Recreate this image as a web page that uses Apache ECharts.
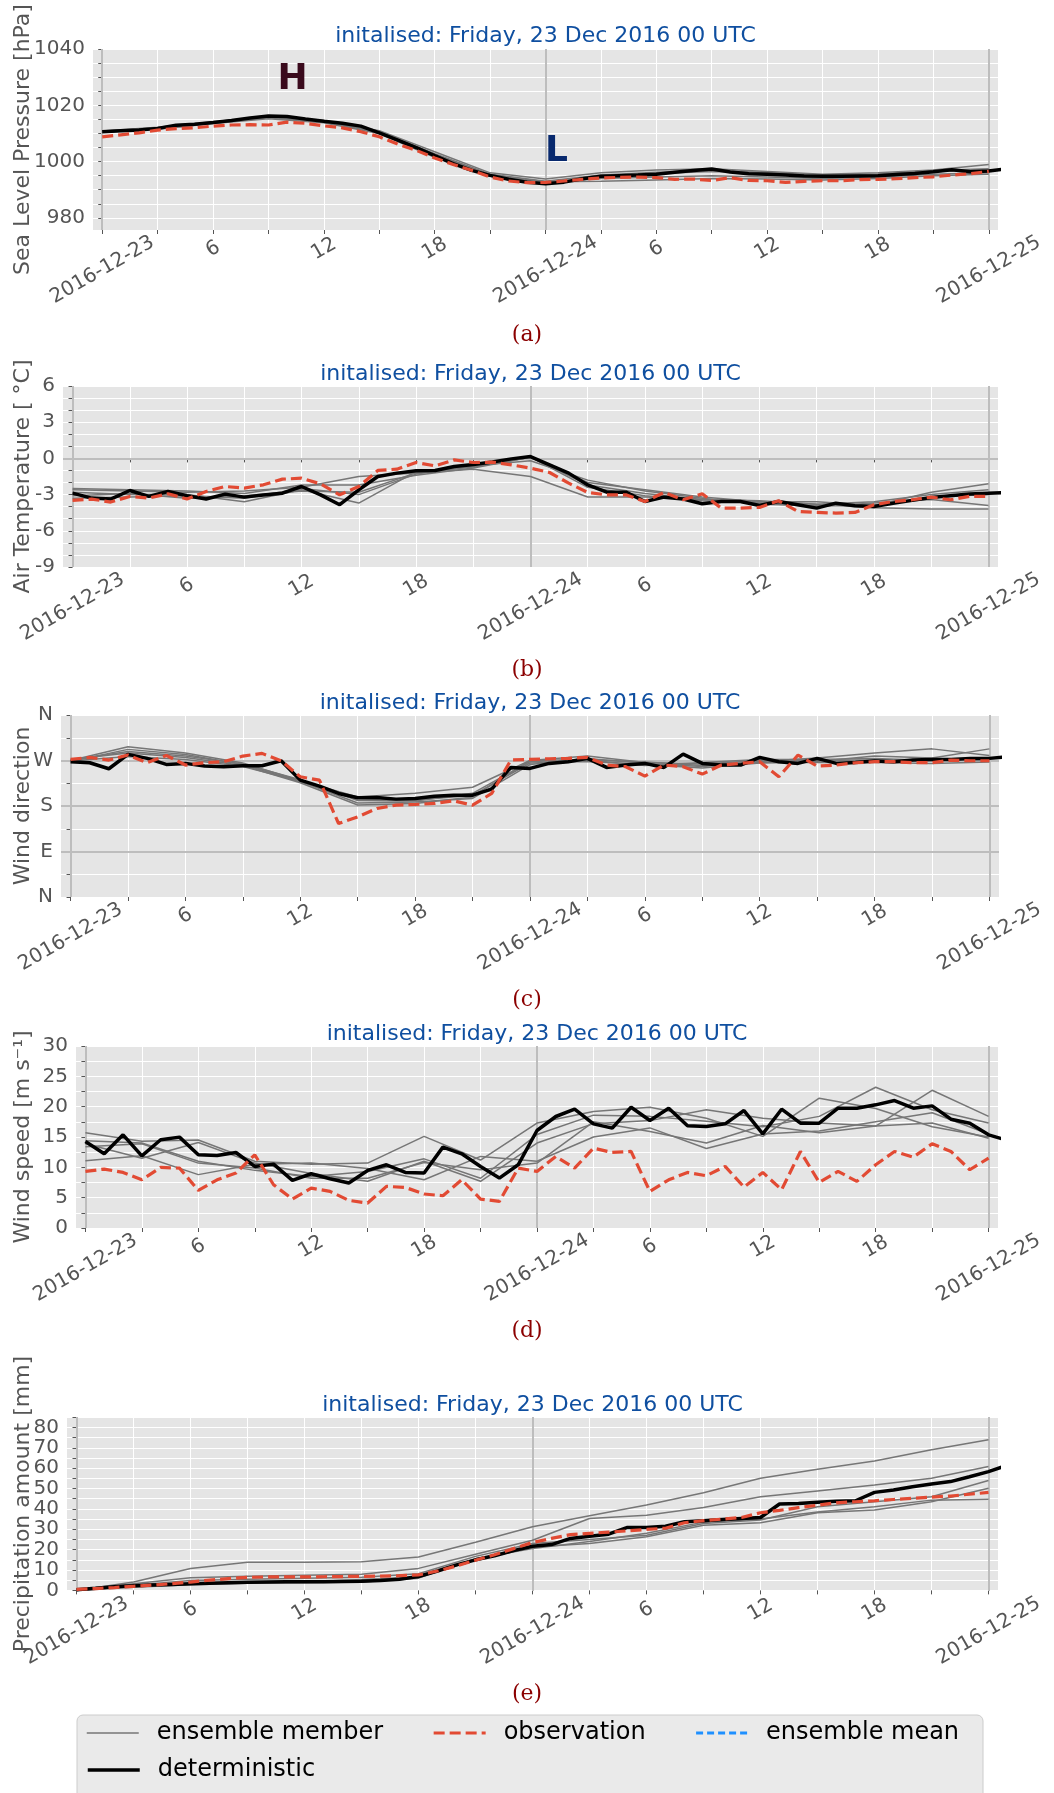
<!DOCTYPE html>
<html>
<head>
<meta charset="utf-8">
<title>Meteogram 23 Dec 2016</title>
<script src="https://cdn.jsdelivr.net/npm/echarts@6/dist/echarts.min.js"></script>
<style>
html, body { margin: 0; padding: 0; background: #fff; }
#chart { width: 1054px; height: 1793px; }
</style>
</head>
<body>
<div id="chart"></div>
<script>
// hours since 2016-12-23 00 UTC
const dayHours = [0, 24, 48];
const dayLabels = ['2016-12-23', '2016-12-24', '2016-12-25'];
const hourLabelValues = [6, 12, 18, 30, 36, 42];
const xTickHours = [0, 3, 6, 9, 12, 15, 18, 21, 24, 27, 30, 33, 36, 39, 42, 45, 48];

// y ticks / labels
const pressureTicks = [980, 985, 990, 995, 1000, 1005, 1010, 1015, 1020, 1025, 1030, 1035, 1040];
const pressureLabels = [980, 1000, 1020, 1040];
const temperatureTicks = [-9, -8, -7, -6, -5, -4, -3, -2, -1, 0, 1, 2, 3, 4, 5, 6];
const temperatureLabels = [-9, -6, -3, 0, 3, 6];
const directionTicks = [0, 45, 90, 135, 180, 225, 270, 315, 360];
const directionLabelValues = [0, 90, 180, 270, 360];
const directionLabelText = ['N', 'E', 'S', 'W', 'N'];
const speedTicks = [0, 2.5, 5, 7.5, 10, 12.5, 15, 17.5, 20, 22.5, 25, 27.5, 30];
const speedLabels = [0, 5, 10, 15, 20, 25, 30];
const precipTicks = [0, 5, 10, 15, 20, 25, 30, 35, 40, 45, 50, 55, 60, 65, 70, 75, 80, 85];
const precipLabels = [0, 10, 20, 30, 40, 50, 60, 70, 80];

// (a) sea level pressure, hourly deterministic / observation, 3-hourly members
const pressureDet = [1010.6, 1011.0, 1011.2, 1011.8, 1012.9, 1013.3, 1013.9, 1014.6, 1015.5, 1016.2, 1016.0, 1015.1, 1014.3, 1013.6, 1012.6, 1010.2, 1007.6, 1005.0, 1002.1, 999.3, 996.9, 995.1, 993.7, 992.7, 992.1, 992.7, 993.9, 994.8, 995.0, 995.2, 995.5, 996.2, 996.8, 997.4, 996.3, 995.7, 995.5, 995.2, 994.9, 994.8, 994.8, 994.9, 995.0, 995.4, 995.8, 996.4, 997.1, 996.4, 996.7, 997.4];
const pressureObs = [1008.8, 1009.5, 1010.2, 1011.2, 1011.7, 1012.0, 1012.6, 1013.0, 1013.1, 1013.0, 1014.0, 1013.6, 1012.7, 1012.0, 1010.6, 1008.8, 1006.2, 1004.0, 1001.3, 999.0, 996.9, 994.5, 993.1, 992.5, 992.6, 993.1, 993.7, 994.2, 994.4, 994.5, 994.3, 993.7, 993.8, 993.3, 994.3, 993.3, 993.2, 992.6, 993.0, 993.2, 993.2, 993.6, 993.7, 993.9, 994.3, 994.6, 995.2, 995.7, 996.5];
const pressureM1 = [1010.8, 1012.0, 1013.8, 1015.8, 1014.6, 1011.0, 1003.5, 996.0, 993.8, 996.0, 997.0, 997.5, 996.5, 995.5, 996.0, 997.0, 999.0];
const pressureM2 = [1010.4, 1011.6, 1013.6, 1015.6, 1014.0, 1010.5, 1002.8, 995.5, 993.0, 995.2, 996.2, 996.8, 996.0, 995.0, 995.5, 996.8, 997.5];
const pressureM3 = [1010.5, 1011.5, 1013.5, 1015.2, 1013.8, 1010.0, 1001.5, 994.8, 992.5, 994.0, 994.5, 995.0, 994.5, 994.0, 994.5, 995.5, 996.0];
const pressureM4 = [1010.9, 1012.2, 1014.2, 1016.0, 1014.5, 1010.8, 1002.5, 995.3, 992.8, 993.0, 993.5, 994.0, 993.8, 993.5, 994.0, 995.0, 995.5];
const pressureM5 = [1010.6, 1011.9, 1013.8, 1015.9, 1014.2, 1010.4, 1002.0, 995.0, 992.2, 994.5, 995.8, 996.5, 996.0, 995.2, 995.5, 996.5, 997.0];
// H / L annotations
const centreText = ['H', 'L'];
const centreHour = [10.3, 24.6];
const centreHpa = [1029.1, 1003.6];

// (b) air temperature
const temperatureDet = [-2.88, -3.29, -3.37, -2.66, -3.15, -2.74, -3.10, -3.37, -2.96, -3.21, -3.04, -2.88, -2.33, -3.02, -3.84, -2.60, -1.50, -1.22, -1.03, -1.00, -0.67, -0.51, -0.29, -0.04, 0.15, -0.53, -1.22, -2.2, -2.8, -2.8, -3.57, -3.21, -3.37, -3.76, -3.57, -3.57, -3.90, -3.57, -3.84, -4.12, -3.71, -3.93, -3.98, -3.71, -3.48, -3.24, -3.10, -2.96, -2.88, -2.82];
const temperatureObs = [-3.48, -3.37, -3.62, -3.15, -3.29, -2.93, -3.37, -2.74, -2.33, -2.46, -2.19, -1.72, -1.64, -2.11, -3.02, -2.33, -1.00, -0.89, -0.34, -0.62, -0.12, -0.34, -0.31, -0.53, -0.81, -1.17, -2.05, -2.82, -3.02, -3.02, -3.57, -2.82, -3.43, -2.93, -4.12, -4.12, -4.06, -3.51, -4.39, -4.48, -4.53, -4.48, -3.84, -3.57, -3.43, -3.21, -3.43, -3.15, -3.15];
const temperatureM1 = [-2.6, -2.7, -2.8, -2.7, -2.4, -1.5, -1.2, -0.9, -1.5, -3.2, -3.2, -3.4, -3.5, -3.8, -4.1, -4.2, -4.2];
const temperatureM2 = [-2.8, -3.0, -3.0, -3.6, -2.6, -3.7, -1.1, -0.7, 0.1, -2.0, -2.6, -3.2, -3.6, -3.6, -3.9, -2.8, -2.1];
const temperatureM3 = [-3.1, -2.9, -3.3, -3.1, -2.7, -2.8, -1.2, -0.7, 0.1, -2.2, -2.9, -3.4, -3.6, -3.8, -3.6, -3.0, -2.6];
const temperatureM4 = [-2.5, -2.6, -2.7, -2.9, -2.2, -2.2, -1.4, -0.8, 0.1, -2.4, -3.1, -3.5, -3.7, -4.0, -3.7, -3.4, -3.9];
const temperatureM5 = [-3.3, -3.2, -3.1, -3.3, -2.5, -3.0, -1.3, -0.6, -0.2, -1.8, -2.7, -3.3, -3.8, -3.9, -3.9, -3.2, -3.0];

// (c) wind direction, degrees
const directionDet = [267.6, 265.6, 253.7, 282.1, 274.2, 262.3, 264.3, 259.0, 257.7, 259.6, 259.6, 269.5, 231.2, 219.4, 204.8, 196.2, 196.9, 193.6, 194.9, 199.5, 201.5, 201.5, 213.4, 256.3, 254.4, 264.3, 267.6, 274.2, 256.3, 261.0, 264.3, 256.3, 282.7, 264.3, 261.0, 261.0, 276.1, 267.6, 264.3, 274.2, 264.3, 266.2, 268.9, 267.6, 270.9, 272.2, 272.2, 274.2, 274.2, 277.5];
const directionObs = [272.2, 276.1, 270.9, 280.8, 265.6, 280.1, 261.0, 265.6, 267.6, 278.8, 284.1, 269.5, 237.8, 231.2, 145.4, 158.6, 175.1, 181.7, 183.0, 185.0, 190.3, 181.7, 204.8, 270.9, 272.2, 273.5, 274.2, 276.1, 261.0, 257.7, 239.2, 261.0, 257.7, 243.1, 261.0, 264.3, 267.6, 237.8, 280.8, 259.0, 261.0, 265.6, 267.6, 267.6, 265.6, 265.6, 270.9, 269.5, 269.5];
const directionM1 = [270, 297, 285, 265, 230, 198, 205, 217, 270, 272, 267, 260, 268, 275, 285, 293, 280];
const directionM2 = [268, 292, 282, 262, 228, 195, 192, 201, 265, 268, 262, 255, 265, 268, 279, 275, 293];
const directionM3 = [272, 285, 276, 260, 226, 182, 185, 198, 270, 279, 266, 263, 270, 270, 271, 271, 275];
const directionM4 = [269, 278, 272, 258, 229, 186, 188, 195, 262, 274, 264, 258, 266, 266, 266, 264, 267];
const directionM5 = [271, 288, 279, 263, 232, 191, 190, 205, 268, 271, 260, 266, 272, 272, 274, 270, 272];

// (d) wind speed, m/s
const speedDet = [14.26, 12.23, 15.36, 11.90, 14.54, 14.98, 12.07, 11.96, 12.45, 10.15, 10.53, 7.84, 8.94, 8.12, 7.41, 9.49, 10.42, 9.16, 9.05, 13.33, 12.23, 10.15, 8.23, 10.42, 16.07, 18.38, 19.58, 17.17, 16.46, 19.91, 17.72, 19.75, 16.84, 16.73, 17.17, 19.36, 15.52, 19.58, 17.28, 17.28, 19.75, 19.75, 20.30, 21.01, 19.75, 20.13, 17.94, 17.28, 15.36, 14.43];
const speedObs = [9.33, 9.71, 9.16, 7.95, 9.98, 9.87, 6.20, 7.95, 9.05, 12.07, 7.13, 4.77, 6.58, 6.03, 4.55, 4.11, 6.86, 6.69, 5.60, 5.32, 7.95, 4.77, 4.39, 9.87, 9.33, 11.79, 9.87, 13.17, 12.45, 12.62, 6.03, 7.95, 9.16, 8.61, 10.15, 6.75, 9.16, 6.31, 12.62, 7.52, 9.33, 7.68, 10.42, 12.62, 11.68, 13.88, 12.62, 9.60, 11.52];
const speedM1 = [15.7, 14.3, 14.5, 11.0, 10.5, 10.7, 15.1, 11.2, 17.3, 19.2, 19.9, 18.1, 15.1, 21.4, 19.7, 16.7, 15.0];
const speedM2 = [14.4, 14.0, 11.0, 9.5, 8.5, 9.3, 11.4, 8.2, 15.4, 18.6, 18.4, 17.6, 16.7, 18.4, 23.2, 19.5, 17.3];
const speedM3 = [13.9, 11.5, 14.1, 10.7, 9.0, 7.7, 11.0, 7.7, 14.0, 17.2, 17.7, 19.5, 18.1, 17.3, 16.8, 22.7, 18.4];
const speedM4 = [13.4, 13.9, 10.7, 9.9, 8.2, 8.2, 10.8, 9.6, 10.7, 17.5, 15.9, 14.0, 16.9, 15.7, 16.8, 17.3, 14.8];
const speedM5 = [11.1, 11.9, 8.8, 10.5, 10.7, 9.8, 7.95, 11.8, 11.0, 15.0, 16.5, 13.1, 15.5, 16.0, 17.5, 19.0, 15.5];

// (e) accumulated precipitation, mm
const precipDet = [0.3, 1.0, 1.8, 2.3, 2.6, 2.9, 3.2, 3.5, 3.8, 4.0, 4.1, 4.2, 4.3, 4.3, 4.4, 4.5, 4.8, 5.5, 6.8, 9.5, 12.5, 15.0, 17.0, 19.5, 21.7, 22.5, 25.5, 26.6, 27.6, 30.9, 30.9, 31.5, 33.7, 34.2, 34.8, 35.3, 35.8, 42.4, 42.7, 43.3, 43.7, 44.0, 48.1, 49.3, 50.9, 52.2, 53.4, 55.8, 58.3, 61.5];
const precipObs = [0.5, 0.9, 1.4, 2.0, 2.6, 3.3, 4.1, 5.0, 5.8, 6.4, 6.6, 6.6, 6.6, 6.7, 6.8, 6.9, 7.0, 7.2, 7.6, 9.5, 12.0, 14.8, 17.5, 20.5, 23.5, 25.5, 27.4, 28.0, 28.6, 29.2, 29.9, 30.5, 33.2, 34.2, 35.0, 35.8, 38.1, 39.3, 40.6, 41.8, 43.0, 43.5, 44.0, 44.6, 45.2, 45.8, 46.3, 47.2, 48.1];
const precipM1 = [0, 4.1, 10.7, 13.8, 13.8, 14.0, 16.4, 23.6, 31.2, 36.6, 41.9, 47.9, 55.0, 59.4, 63.5, 69.0, 73.9];
const precipM2 = [0, 3.3, 6.2, 6.9, 7.4, 7.9, 10.8, 17.7, 24.6, 35.3, 36.9, 40.7, 46.0, 48.8, 51.7, 55.0, 60.8];
const precipM3 = [0, 2.5, 4.9, 5.5, 6.0, 6.5, 8.2, 16.7, 23.0, 25.0, 27.1, 32.8, 34.5, 41.1, 43.5, 46.0, 53.9];
const precipM4 = [0, 2.0, 3.3, 4.1, 4.1, 5.3, 6.6, 14.8, 21.3, 23.0, 26.3, 32.0, 33.2, 38.1, 39.4, 43.5, 50.1];
const precipM5 = [0, 1.5, 2.8, 3.5, 3.8, 4.1, 6.0, 15.5, 20.5, 24.0, 28.0, 33.5, 35.0, 38.5, 41.0, 44.3, 44.7];

const initText = 'initalised: Friday, 23 Dec 2016 00 UTC';
const captions = ['(a)', '(b)', '(c)', '(d)', '(e)'];

// layout (pixels)
const gridBoxes = [
  { left: 93, right: 56, top: 49, height: 181 },
  { left: 63, right: 56, top: 386, height: 181 },
  { left: 61, right: 55, top: 715, height: 182 },
  { left: 76, right: 56, top: 1046, height: 182 },
  { left: 67, right: 56, top: 1417, height: 174 }
];
const titleY = [36, 374, 703, 1034, 1405];
const captionY = [335, 670, 1000, 1331, 1694];
const nameGaps = [59, 29, 27, 42, 33];

const panels = [
  { det: pressureDet, obs: pressureObs, members: [pressureM1, pressureM2, pressureM3, pressureM4, pressureM5],
    min: 975.7, max: 1040, ticks: pressureTicks, labels: pressureLabels, name: 'Sea Level Pressure [hPa]', hLines: [] },
  { det: temperatureDet, obs: temperatureObs, members: [temperatureM1, temperatureM2, temperatureM3, temperatureM4, temperatureM5],
    min: -9, max: 6, ticks: temperatureTicks, labels: temperatureLabels, name: 'Air Temperature [ °C]', hLines: [0] },
  { det: directionDet, obs: directionObs, members: [directionM1, directionM2, directionM3, directionM4, directionM5],
    min: 0, max: 360, ticks: directionTicks, labels: directionLabelValues, name: 'Wind direction', hLines: [90, 180, 270],
    fmt: function (v) { return directionLabelText[directionLabelValues.indexOf(v)]; } },
  { det: speedDet, obs: speedObs, members: [speedM1, speedM2, speedM3, speedM4, speedM5],
    min: 0, max: 30, ticks: speedTicks, labels: speedLabels, name: 'Wind speed [m s⁻¹]', hLines: [] },
  { det: precipDet, obs: precipObs, members: [precipM1, precipM2, precipM3, precipM4, precipM5],
    min: -0.3, max: 85.1, ticks: precipTicks, labels: precipLabels, name: 'Precipitation amount [mm]', hLines: [] }
];

const grey = '#555555';
const chart = echarts.init(document.getElementById('chart'));

let grids = [], xAxes = [], yAxes = [], series = [], graphics = [];

panels.forEach(function (p, i) {
  const box = gridBoxes[i];
  grids.push({
    left: box.left, right: box.right, top: box.top, height: box.height,
    show: true, backgroundColor: '#e5e5e5', borderWidth: 0
  });
  // hours axis: ticks, grid lines, 6/12/18 labels
  xAxes.push({
    gridIndex: i, type: 'value', min: -0.5, max: 48.5, position: 'bottom',
    axisLine: { show: false },
    axisTick: { show: true, customValues: xTickHours, length: 4, lineStyle: { color: grey } },
    axisLabel: {
      customValues: hourLabelValues, formatter: function (v) { return String(v % 24); },
      rotate: 30, align: 'center', verticalAlign: 'middle', margin: 19, fontSize: 20, color: grey
    },
    splitLine: { show: true, lineStyle: { color: '#ffffff', width: 1 } }
  });
  // date axis: only the day labels
  xAxes.push({
    gridIndex: i, type: 'value', min: -0.5, max: 48.5, position: 'bottom',
    axisLine: { show: false }, axisTick: { show: false }, splitLine: { show: false },
    axisLabel: {
      customValues: dayHours, formatter: function (v) { return dayLabels[dayHours.indexOf(v)]; },
      rotate: 30, align: 'center', verticalAlign: 'middle', margin: 40, fontSize: 20, color: grey
    }
  });
  yAxes.push({
    gridIndex: i, type: 'value', min: p.min, max: p.max,
    name: p.name, nameLocation: 'middle', nameGap: nameGaps[i], nameMoveOverlap: false,
    nameTextStyle: { fontSize: 22, color: grey },
    axisLine: { show: false },
    axisTick: { show: true, customValues: p.ticks, length: 4, lineStyle: { color: grey } },
    axisLabel: {
      customValues: p.labels, formatter: p.fmt || function (v) { return String(v); },
      fontSize: 20, color: grey, margin: 8
    },
    splitLine: { show: true, lineStyle: { color: '#ffffff', width: 1 } }
  });

  let refLines = dayHours.map(function (h) { return { xAxis: h }; });
  p.hLines.forEach(function (v) { refLines.push({ yAxis: v }); });

  p.members.forEach(function (m, k) {
    series.push({
      type: 'line', name: 'ensemble member', xAxisIndex: 2 * i, yAxisIndex: i,
      data: m.map(function (v, j) { return [j * 3, v]; }),
      symbol: 'none', silent: true, z: 2,
      lineStyle: { color: '#767676', width: 1.5 }, itemStyle: { color: '#767676' },
      markLine: k === 0 ? {
        silent: true, symbol: ['none', 'none'], z: 1, label: { show: false },
        lineStyle: { color: '#bdbdbd', width: 2, type: 'solid' },
        data: refLines
      } : undefined
    });
  });
  series.push({
    type: 'line', name: 'deterministic', xAxisIndex: 2 * i, yAxisIndex: i,
    data: p.det.map(function (v, j) { return [j, v]; }),
    symbol: 'none', silent: true, z: 3,
    lineStyle: { color: '#000000', width: 3.5 }, itemStyle: { color: '#000000' }
  });
  series.push({
    type: 'line', name: 'observation', xAxisIndex: 2 * i, yAxisIndex: i,
    data: p.obs.map(function (v, j) { return [j, v]; }),
    symbol: 'none', silent: true, z: 4,
    lineStyle: { color: '#e24a33', width: 3.2, type: [11, 5] }, itemStyle: { color: '#e24a33' }
  });

  const cx = box.left + (1054 - box.left - box.right) / 2;
  graphics.push({
    type: 'text', x: cx, y: titleY[i], silent: true,
    style: { text: initText, fill: '#0f4fa0', font: '22px "DejaVu Sans"', textAlign: 'center', textVerticalAlign: 'middle' }
  });
  graphics.push({
    type: 'text', x: 527, y: captionY[i], silent: true,
    style: { text: captions[i], fill: '#8b0000', font: '22px "DejaVu Serif"', textAlign: 'center', textVerticalAlign: 'middle' }
  });
});

// ensemble mean (legend entry only, no values shown in the figure)
series.push({
  type: 'line', name: 'ensemble mean', xAxisIndex: 0, yAxisIndex: 0, data: [],
  symbol: 'none', lineStyle: { color: '#1e90ff', width: 3, type: [7, 4] }, itemStyle: { color: '#1e90ff' }
});

// H / L pressure centres
const centreColors = { H: '#3a0a1c', L: '#08296e' };
series.push({
  type: 'scatter', name: 'centres', xAxisIndex: 0, yAxisIndex: 0, symbolSize: 2, silent: true, z: 5,
  itemStyle: { color: 'rgba(0,0,0,0)', opacity: 1 },
  label: { show: true, position: 'inside', formatter: '{b}', fontSize: 36, fontWeight: 'bold', fontFamily: 'DejaVu Sans', opacity: 1 },
  data: centreText.map(function (t, k) {
    return { name: t, value: [centreHour[k], centreHpa[k]], label: { color: centreColors[t] } };
  })
});

// legend frame
graphics.push({
  type: 'rect', z: 0, silent: true,
  shape: { x: 77, y: 1715, width: 906, height: 90, r: 6 },
  style: { fill: '#eaeaea', stroke: '#cccccc', lineWidth: 1 }
});

const legendText = { fontSize: 24, color: '#000000', padding: [0, 0, 0, 13] };

const option = {
  animation: false,
  backgroundColor: '#ffffff',
  textStyle: { fontFamily: 'DejaVu Sans' },
  grid: grids,
  xAxis: xAxes,
  yAxis: yAxes,
  legend: [
    {
      data: ['ensemble member', 'observation', 'ensemble mean'],
      left: 86, top: 1721, padding: 0, itemWidth: 52, itemHeight: 14, itemGap: 49,
      selectedMode: false, z: 10, textStyle: legendText,
      itemStyle: { opacity: 0 }, lineStyle: { width: 'inherit' }
    },
    {
      data: ['deterministic'],
      left: 86, top: 1758, padding: 0, itemWidth: 52, itemHeight: 14,
      selectedMode: false, z: 10, textStyle: legendText,
      itemStyle: { opacity: 0 }, lineStyle: { width: 'inherit' }
    }
  ],
  graphic: graphics,
  series: series
};

chart.setOption(option);
</script>
</body>
</html>
